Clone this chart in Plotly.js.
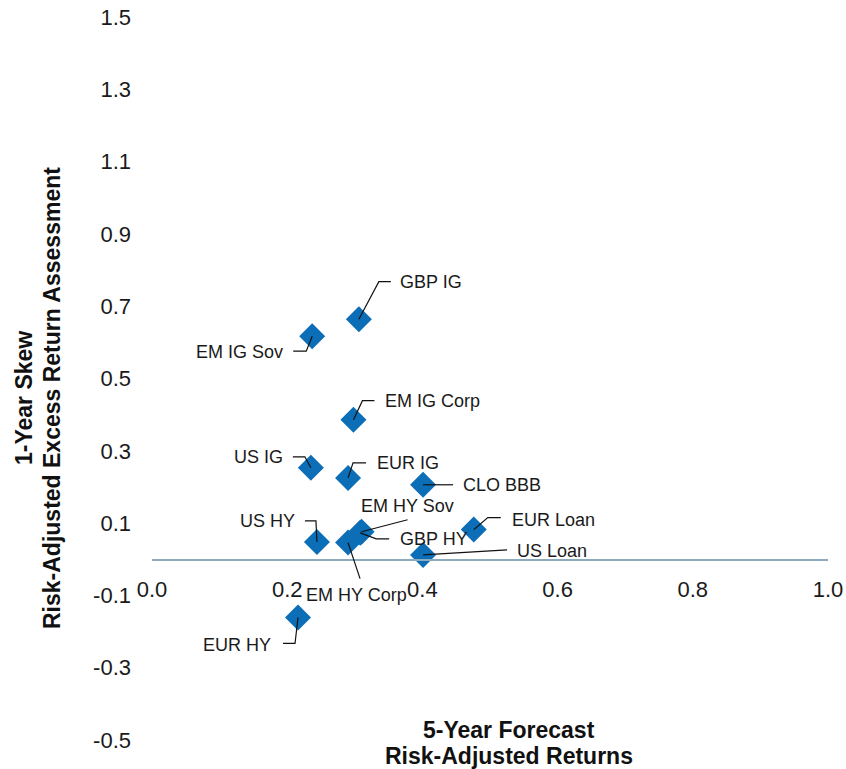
<!DOCTYPE html>
<html>
<head>
<meta charset="utf-8">
<script src="https://cdn.plot.ly/plotly-3.0.1.min.js"></script>
<style>
  html, body { margin: 0; padding: 0; background: #ffffff; }
  #chart { width: 846px; height: 769px; }
</style>
</head>
<body>
<div id="chart"></div>
<script>
// Fixed-income sectors: 5-year forecast vs 1-year skew (risk-adjusted)
const sectors = ["GBP IG", "EM IG Sov", "EM IG Corp", "US IG", "EUR IG", "CLO BBB",
                 "EM HY Sov", "GBP HY", "US HY", "EM HY Corp", "EUR Loan", "US Loan", "EUR HY"];
const forecast5y = [0.306, 0.237, 0.298, 0.235, 0.290, 0.401,
                    0.310, 0.308, 0.244, 0.290, 0.476, 0.401, 0.216];
const skew1y = [0.664, 0.617, 0.386, 0.253, 0.225, 0.206,
                0.076, 0.073, 0.048, 0.046, 0.082, 0.012, -0.161];

const xTickValues = [0, 0.2, 0.4, 0.6, 0.8, 1.0];
const xTickLabels = ["0.0", "0.2", "0.4", "0.6", "0.8", "1.0"];
const yTickValues = [-0.5, -0.3, -0.1, 0.1, 0.3, 0.5, 0.7, 0.9, 1.1, 1.3, 1.5];
const yTickLabels = ["-0.5", "-0.3", "-0.1", "0.1", "0.3", "0.5", "0.7", "0.9", "1.1", "1.3", "1.5"];

// Label placement in pixels relative to each marker (y up):
// text offset, text anchor, and the leader-line vertices.
const placement = {
  "GBP IG":     { dx: 39,  dy: 37,  anchor: "left",   leader: [[20, 37.5], [32, 37.5]] },
  "EM IG Sov":  { dx: -27, dy: -16, anchor: "right",  leader: [[-6, -15], [-19, -15]] },
  "EM IG Corp": { dx: 30,  dy: 19,  anchor: "left",   leader: [[9, 19], [21, 19]] },
  "US IG":      { dx: -26, dy: 11,  anchor: "right",  leader: [[-6, 11], [-18, 11]] },
  "EUR IG":     { dx: 27,  dy: 15,  anchor: "left",   leader: [[5, 15], [18, 15]] },
  "CLO BBB":    { dx: 38,  dy: 0,   anchor: "left",   leader: [[30, 0]] },
  "EM HY Sov":  { dx: 46,  dy: 26,  anchor: "center", leader: [[46, 12]] },
  "GBP HY":     { dx: 38,  dy: -6,  anchor: "left",   leader: [[16, -6], [29, -6]] },
  "US HY":      { dx: -20, dy: 21,  anchor: "right",  leader: [[-1, 21], [-12, 21]] },
  "EM HY Corp": { dx: 8,   dy: -52, anchor: "center", leader: [[12, -36]] },
  "EUR Loan":   { dx: 36,  dy: 10,  anchor: "left",   leader: [[14, 12], [27, 12]] },
  "US Loan":    { dx: 92,  dy: 4,   anchor: "left",   leader: [[84, 5]] },
  "EUR HY":     { dx: -25, dy: -28, anchor: "right",  leader: [[-3, -26], [-15, -26]] }
};

const FONT = "Liberation Sans, Arial, Helvetica, sans-serif";
const markerBlue = "#0b6eb6";

const shapes = [];
const annotations = [];

sectors.forEach((name, i) => {
  const p = placement[name];
  // leader line drawn in pixel units anchored on the data point
  const path = "M0,0 " + p.leader.map(v => "L" + v[0] + "," + v[1]).join(" ");
  shapes.push({
    type: "path",
    xref: "x", yref: "y",
    xsizemode: "pixel", ysizemode: "pixel",
    xanchor: forecast5y[i], yanchor: skew1y[i],
    path: path,
    line: { color: "#111111", width: 1.2 },
    layer: "above"
  });
  annotations.push({
    x: forecast5y[i], y: skew1y[i],
    xref: "x", yref: "y",
    text: name,
    showarrow: false,
    xshift: p.dx, yshift: p.dy,
    xanchor: p.anchor, yanchor: "middle",
    font: { family: FONT, size: 18, color: "#1a1a1a" }
  });
});

// Axis titles
const titleFont = { family: FONT, size: 23, color: "#111111", weight: "bold" };
[["<b>5-Year Forecast</b>", 729.5], ["<b>Risk-Adjusted Returns</b>", 756]].forEach(t => {
  annotations.push({
    xref: "paper", yref: "paper",
    x: (509 - 152) / 676, y: (740 - t[1]) / 723,
    xanchor: "center", yanchor: "middle",
    text: t[0], showarrow: false, font: titleFont
  });
});
[["<b>1-Year Skew</b>", 24], ["<b>Risk-Adjusted Excess Return Assessment</b>", 52]].forEach(t => {
  annotations.push({
    xref: "paper", yref: "paper",
    x: (t[1] - 152) / 676, y: (740 - 398) / 723,
    xanchor: "center", yanchor: "middle",
    textangle: -90,
    text: t[0], showarrow: false, font: titleFont
  });
});

const trace = {
  type: "scatter",
  mode: "markers",
  x: forecast5y,
  y: skew1y,
  text: sectors,
  marker: { symbol: "diamond", size: 20, color: markerBlue, line: { width: 0 } },
  cliponaxis: false,
  hoverinfo: "text"
};

const layout = {
  width: 846,
  height: 769,
  margin: { l: 152, r: 18, t: 17, b: 29, pad: 0 },
  paper_bgcolor: "#ffffff",
  plot_bgcolor: "#ffffff",
  showlegend: false,
  font: { family: FONT, color: "#1a1a1a" },
  xaxis: {
    range: [0, 1],
    anchor: "free",
    position: 0.25,
    showgrid: false,
    zeroline: false,
    showline: true,
    linecolor: "#8eaabd",
    linewidth: 1.5,
    ticks: "",
    tickmode: "array",
    tickvals: xTickValues,
    ticktext: xTickLabels,
    ticklabelstandoff: 10,
    tickfont: { family: FONT, size: 22, color: "#1a1a1a" }
  },
  yaxis: {
    range: [-0.5, 1.5],
    showgrid: false,
    zeroline: false,
    showline: false,
    ticks: "",
    tickmode: "array",
    tickvals: yTickValues,
    ticktext: yTickLabels,
    ticklabelstandoff: 20,
    tickfont: { family: FONT, size: 22, color: "#1a1a1a" }
  },
  shapes: shapes,
  annotations: annotations
};

Plotly.newPlot("chart", [trace], layout, { displayModeBar: false, staticPlot: true });
</script>
</body>
</html>
